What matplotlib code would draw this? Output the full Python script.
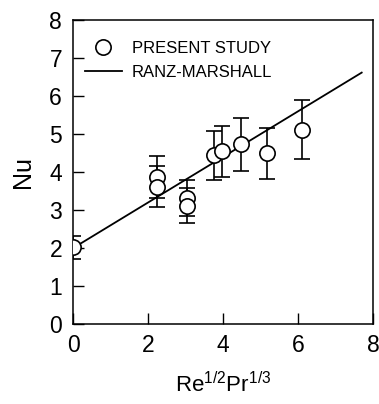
import matplotlib.pyplot as plt
from matplotlib.lines import Line2D
import numpy as np

plt.rcParams['font.family'] = ['Liberation Sans', 'DejaVu Sans']
plt.rcParams['mathtext.fontset'] = 'custom'
plt.rcParams['mathtext.rm'] = 'Liberation Sans'
plt.rcParams['mathtext.it'] = 'Liberation Sans'

# measured points (Re^1/2 Pr^1/3, Nu, error)
x_data = [0.0, 2.25, 2.25, 3.03, 3.03, 3.76, 3.96, 4.47, 5.16, 6.10]
nu_data = [2.02, 3.88, 3.62, 3.32, 3.11, 4.44, 4.55, 4.73, 4.50, 5.12]
nu_err = [0.30, 0.55, 0.53, 0.47, 0.46, 0.65, 0.67, 0.70, 0.67, 0.77]

# Ranz-Marshall: Nu = 2 + 0.6 Re^1/2 Pr^1/3
x_line = np.array([0.0, 7.7])
nu_line = 2 + 0.6 * x_line

fig = plt.figure(figsize=(3.79, 4.04), dpi=100)
ax = fig.add_axes([0.193, 0.198, 0.791, 0.752])

ax.plot(x_line, nu_line, color='black', lw=1.3, zorder=2)
ax.errorbar(x_data, nu_data, yerr=nu_err, fmt='o', ms=11, mfc='white', mec='black',
            mew=1.2, ecolor='black', elinewidth=1.2, capsize=6, capthick=1.2,
            zorder=3)

ax.set_xlim(0, 8)
ax.set_ylim(0, 8)
ax.set_xticks([0, 2, 4, 6, 8])
ax.set_yticks(range(9))
ax.tick_params(direction='in', length=8, width=1, labelsize=16.5, pad=7)
ax.tick_params(axis='y', pad=8)
for s in ax.spines.values():
    s.set_linewidth(1.1)

ax.set_xlabel(r'Re$^{\mathrm{1/2}}$Pr$^{\mathrm{1/3}}$', fontsize=16, labelpad=11)
ax.set_ylabel('Nu', fontsize=18, labelpad=10)

handles = [Line2D([], [], ls='none', marker='o', ms=11, mfc='white', mec='black', mew=1.2),
           Line2D([], [], color='black', lw=1.3)]
ax.legend(handles, ['PRESENT STUDY', 'RANZ-MARSHALL'], loc='upper left',
          bbox_to_anchor=(-0.01, 0.98), frameon=False, fontsize=12,
          handlelength=2.2, handletextpad=0.6, labelspacing=0.5)

fig.savefig('out.png', dpi=100)
